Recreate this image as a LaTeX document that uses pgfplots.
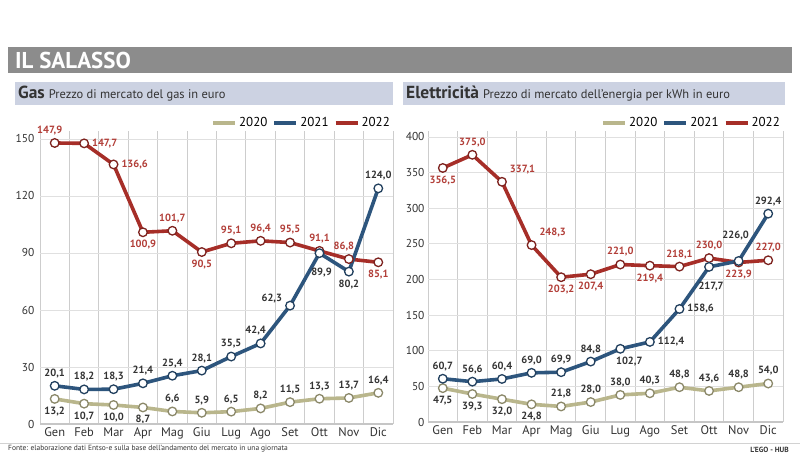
\documentclass[border=0pt]{standalone}
\usepackage{fontspec}
\setmainfont{PT Sans}
\usepackage{pgfplots}
\usepackage{pgfplotstable}
\pgfplotsset{compat=1.18}
\definecolor{c2020}{HTML}{B9B68C}
\definecolor{c2021}{HTML}{2D557D}
\definecolor{c2022}{HTML}{A62E28}
\definecolor{lblred}{HTML}{B23E38}
\definecolor{lblgray}{HTML}{333333}
\definecolor{tickgray}{HTML}{333333}
\definecolor{titlegray}{HTML}{8C8C8C}
\definecolor{subbar}{HTML}{CCD2E2}
\definecolor{vgrid}{HTML}{CDCDCD}
\definecolor{hgrid}{HTML}{E0E0E0}

\pgfplotstableread{
x y a
0 13.2 S
1 10.7 S
2 10.0 S
3 8.7 S
4 6.6 N
5 5.9 N
6 6.5 N
7 8.2 N
8 11.5 N
9 13.3 N
10 13.7 N
11 16.4 N
}\gasA
\pgfplotstableread{
x y a
0 20.1 N
1 18.2 N
2 18.3 N
3 21.4 N
4 25.4 N
5 28.1 N
6 35.5 N
7 42.4 Nl
8 62.3 Wu
9 89.9 Sd
10 80.2 S
11 124.0 N
}\gasB
\pgfplotstableread{
x y a
0 147.9 Nl
1 147.7 E
2 136.6 E
3 100.9 S
4 101.7 N
5 90.5 S
6 95.1 N
7 96.4 N
8 95.5 N
9 91.1 N
10 86.8 Nl
11 85.1 S
}\gasC
\pgfplotstableread{
x y a
0 47.5 S
1 39.3 S
2 32.0 S
3 24.8 S
4 21.8 N
5 28.0 N
6 38.0 N
7 40.3 N
8 48.8 N
9 43.6 N
10 48.8 N
11 54.0 N
}\elA
\pgfplotstableread{
x y a
0 60.7 N
1 56.6 N
2 60.4 N
3 69.0 N
4 69.9 N
5 84.8 N
6 102.7 Sr
7 112.4 E
8 158.6 E
9 217.7 Sd
10 226.0 NN
11 292.4 N
}\elB
\pgfplotstableread{
x y a
0 356.5 S
1 375.0 N
2 337.1 NE
3 248.3 NE
4 203.2 S
5 207.4 S
6 221.0 N
7 219.4 S
8 218.1 N
9 230.0 N
10 223.9 S
11 227.0 N
}\elC

\tikzset{
  lblN/.style={anchor=south},
  lblS/.style={anchor=north},
  lblE/.style={anchor=west},
  lblW/.style={anchor=east},
  lblNE/.style={anchor=south west},
  lblNl/.style={anchor=south, xshift=-5bp},
  lblWu/.style={anchor=east, yshift=7bp},
  lblSr/.style={anchor=north, xshift=9bp},
  lblSd/.style={anchor=north, xshift=2bp, yshift=-7bp},
  lblNN/.style={anchor=south, xshift=-3bp, yshift=13bp},
  lblpos/.code={\edef\lbltmp{/tikz/lbl#1}\expandafter\pgfkeysalso\expandafter{\lbltmp}},
}

\pgfplotsset{
  /pgf/number format/assume math mode=true,
  salasso/.style={
    scale only axis, clip=false,
    xmin=-0.5, xmax=11.5,
    xtick={0,...,11},
    xticklabels={Gen,Feb,Mar,Apr,Mag,Giu,Lug,Ago,Set,Ott,Nov,Dic},
    minor xtick={-0.5,0.5,...,11.5},
    xminorgrids, ymajorgrids,
    minor grid style={draw=vgrid, line width=1bp},
    major grid style={draw=hgrid, line width=0.9bp},
    major tick length=0pt, minor tick length=0pt,
    axis line style={draw=none},
    tick label style={font=\fontsize{12.5}{13}\selectfont, text=tickgray},
    yticklabel style={font=\fontsize{11.5}{12}\selectfont},
    legend style={at={(1,1)}, anchor=south east, draw=none, fill=none,
      font=\fontsize{13}{13}\selectfont, inner sep=1bp,
      /tikz/every even column/.append style={column sep=3bp}},
    legend columns=3,
    legend image code/.code={\draw[##1, line width=4bp] (0bp,0bp) -- (22bp,0bp);},
    after end axis/.code={\draw[gray!45, line width=1.6bp] (rel axis cs:0,0) -- (rel axis cs:1,0);},
  },
  ser/.style 2 args={color=#1, line width=3.6bp, mark=*, mark size=4.3bp,
    mark options={fill=white, draw=#1!75!black, line width=1.3bp},
    point meta=explicit symbolic,
    visualization depends on={y \as \yv},
    nodes near coords={\pgfmathprintnumber[fixed,fixed zerofill,precision=1,use comma]{\yv}},
    every node near coord/.append style={lblpos=\pgfplotspointmeta, font=\fontsize{10.5}{11}\selectfont\bfseries,
      inner sep=1bp, outer sep=7bp, text=#2}},
}

\begin{document}
\begin{tikzpicture}[x=1bp,y=1bp]
\fill[white] (0,0) rectangle (800,468);
% title bar
\fill[titlegray] (8,395) rectangle (792,421);
\node[anchor=west, text=white, font=\fontsize{23}{23}\selectfont\bfseries, inner sep=0] at (15,408) {IL SALASSO};
% sub bars
\fill[subbar] (15,363) rectangle (393,386);
\fill[subbar] (403,363) rectangle (785,386);
\node[anchor=base west, text=lblgray, inner sep=0] at (18,369) {{\fontsize{17.5}{18}\selectfont\bfseries Gas}\hspace{4bp}{\fontsize{12.5}{13}\selectfont Prezzo di mercato del gas in euro}};
\node[anchor=base west, text=lblgray, inner sep=0] at (406,369) {{\fontsize{17.5}{18}\selectfont\bfseries Elettricità}\hspace{4bp}{\fontsize{12.5}{13}\selectfont Prezzo di mercato dell’energia per kWh in euro}};

% Gas
\begin{axis}[salasso, at={(40bp,44bp)}, anchor=south west,
  width=353bp, height=292.6bp, ymin=0, ymax=154,
  ytick={0,30,...,150}, yticklabel style={xshift=-2bp}]
\addlegendimage{color=c2020}\addlegendentry{2020}
\addlegendimage{color=c2021}\addlegendentry{2021}
\addlegendimage{color=c2022}\addlegendentry{2022}
\addplot[ser={c2022}{lblred}, forget plot] table[x=x,y=y,meta=a] {\gasC};
\addplot[ser={c2020}{lblgray}, forget plot] table[x=x,y=y,meta=a] {\gasA};
\addplot[ser={c2021}{lblgray}, forget plot] table[x=x,y=y,meta=a] {\gasB};
\end{axis}

% Elettricita
\begin{axis}[salasso, at={(428bp,46bp)}, anchor=south west,
  width=355bp, height=290.7bp, ymin=0, ymax=408,
  ytick={0,50,...,400}]
\addlegendimage{color=c2020}\addlegendentry{2020}
\addlegendimage{color=c2021}\addlegendentry{2021}
\addlegendimage{color=c2022}\addlegendentry{2022}
\addplot[ser={c2022}{lblred}, forget plot] table[x=x,y=y,meta=a] {\elC};
\addplot[ser={c2020}{lblgray}, forget plot] table[x=x,y=y,meta=a] {\elA};
\addplot[ser={c2021}{lblgray}, forget plot] table[x=x,y=y,meta=a] {\elB};
\end{axis}

% footer
\draw[gray!35, line width=0.8bp] (0,25) -- (800,25);
\node[anchor=west, text=lblgray, font=\fontsize{7.5}{8}\selectfont, inner sep=0] at (8,19) {Fonte: elaborazione dati Entso-e sulla base dell’andamento del mercato in una giornata};
\node[anchor=east, text=lblgray, font=\fontsize{7.5}{8}\selectfont\bfseries, inner sep=0] at (789,18) {L’EGO - HUB};
\pgfresetboundingbox
\useasboundingbox (0,0) rectangle (800,468);
\end{tikzpicture}
\end{document}
